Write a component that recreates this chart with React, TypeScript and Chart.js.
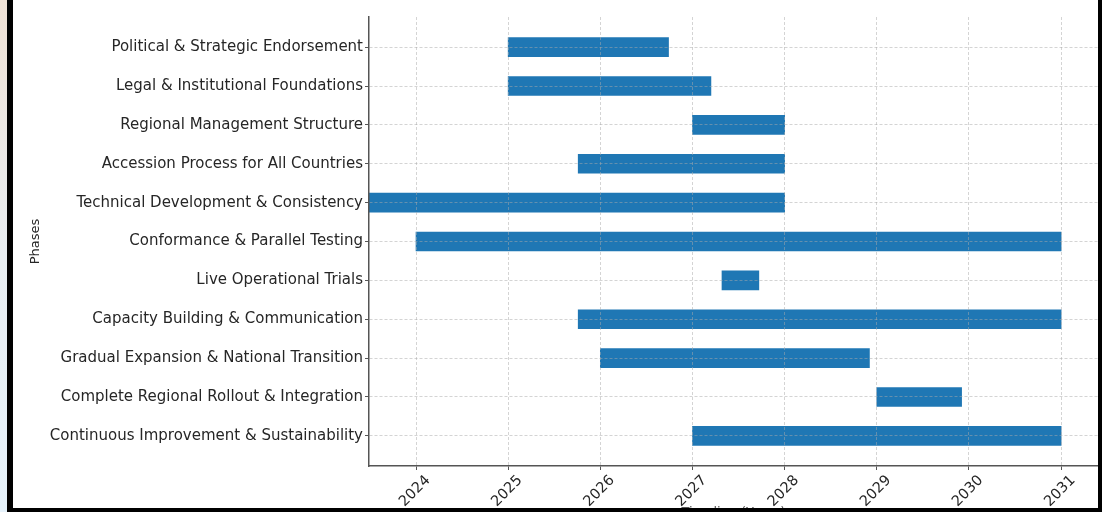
import React, { useEffect, useRef } from "react";
import { Chart, registerables } from "chart.js";

Chart.register(...registerables);

const phases = [
  "Political & Strategic Endorsement",
  "Legal & Institutional Foundations",
  "Regional Management Structure",
  "Accession Process for All Countries",
  "Technical Development & Consistency",
  "Conformance & Parallel Testing",
  "Live Operational Trials",
  "Capacity Building & Communication",
  "Gradual Expansion & National Transition",
  "Complete Regional Rollout & Integration",
  "Continuous Improvement & Sustainability",
];

const startYears = [2025.0, 2025.0, 2027.0, 2025.76, 2023.0, 2024.0, 2027.32, 2025.76, 2026.0, 2029.0, 2027.0];
const endYears = [2026.74, 2027.2, 2028.0, 2028.0, 2028.0, 2031.0, 2027.72, 2031.0, 2028.92, 2029.92, 2031.0];

const yearTicks = [2024, 2025, 2026, 2027, 2028, 2029, 2030, 2031];
const xMin = 2023.49;
const xMax = 2031.4;

const FONT = "'DejaVu Sans', sans-serif";
const CANVAS_W = 1085;
const CANVAS_H = 540;

export default function App() {
  const ref = useRef<HTMLCanvasElement | null>(null);

  useEffect(() => {
    if (!ref.current) return;
    const data = phases.map((_, i) => ({ x: [startYears[i], endYears[i]], y: i }));
    const gridColor = "rgba(170,170,170,0.5)";
    const chart = new Chart(ref.current, {
      type: "bar",
      data: {
        datasets: [
          {
            data: data as any,
            backgroundColor: "#1f77b4",
            borderWidth: 0,
            barThickness: 19,
          },
        ],
      },
      options: {
        indexAxis: "y",
        responsive: false,
        animation: false,
        layout: { padding: { top: 17, left: 0, right: 0, bottom: 0 } },
        plugins: { legend: { display: false }, tooltip: { enabled: false } },
        scales: {
          x: {
            type: "linear",
            position: "bottom",
            min: xMin,
            max: xMax,
            offset: false,
            afterBuildTicks: (s: any) => {
              s.ticks = yearTicks.map((v) => ({ value: v }));
            },
            afterFit: (s: any) => {
              s.height = CANVAS_H - 466;
            },
            ticks: {
              minRotation: 45,
              maxRotation: 45,
              padding: 2,
              labelOffset: 12,
              color: "#262626",
              font: { family: FONT, size: 14.5 },
              callback: (v: any) => String(v),
            },
            grid: {
              z: 1,
              offset: false,
              color: gridColor,
              lineWidth: 1,
              drawTicks: true,
              tickLength: 4,
              tickColor: "#555",
              tickBorderDash: [],
            },
            border: { display: true, color: "#555", width: 1.5, dash: [3, 2], z: 2 },
            title: {
              display: true,
              text: "Timeline (Years)",
              color: "#555",
              font: { family: FONT, size: 13 },
              padding: { top: 0, bottom: 20 },
            },
          },
          y: {
            type: "linear",
            position: "left",
            reverse: true,
            offset: false,
            min: -0.775,
            max: 10.775,
            afterBuildTicks: (s: any) => {
              s.ticks = phases.map((_, i) => ({ value: i }));
            },
            afterFit: (s: any) => {
              s.width = 356;
            },
            ticks: {
              padding: 2,
              color: "#262626",
              font: { family: FONT, size: 15 },
              callback: (v: any) => phases[v as number] ?? "",
            },
            grid: {
              z: 1,
              offset: false,
              color: gridColor,
              lineWidth: 1,
              drawTicks: true,
              tickLength: 4,
              tickColor: "#555",
              tickBorderDash: [],
            },
            border: { display: true, color: "#555", width: 1.5, dash: [3, 2], z: 2 },
            title: {
              display: true,
              text: "Phases",
              color: "#262626",
              font: { family: FONT, size: 13 },
              padding: { top: 15, bottom: 0 },
            },
          },
        },
      } as any,
    });
    return () => chart.destroy();
  }, []);

  return (
    <div
      style={{
        position: "relative",
        width: 1102,
        height: 512,
        overflow: "hidden",
        background: "#fff",
      }}
    >
      <style>{"body{margin:0;}"}</style>
      <canvas
        ref={ref}
        width={CANVAS_W}
        height={CANVAS_H}
        style={{ position: "absolute", left: 13, top: 0, width: CANVAS_W, height: CANVAS_H }}
      />
      <div
        style={{
          position: "absolute",
          left: 0,
          top: 0,
          width: 7,
          height: 512,
          background: "linear-gradient(to bottom, #efe1d5, #e9eef2 50%, #e6f2fb)",
        }}
      />
      <div style={{ position: "absolute", left: 7, top: 0, width: 6, height: 512, background: "#000" }} />
      <div style={{ position: "absolute", left: 7, top: 508, width: 1095, height: 4, background: "#000" }} />
      <div style={{ position: "absolute", left: 1098, top: 0, width: 4, height: 512, background: "#000" }} />
    </div>
  );
}
